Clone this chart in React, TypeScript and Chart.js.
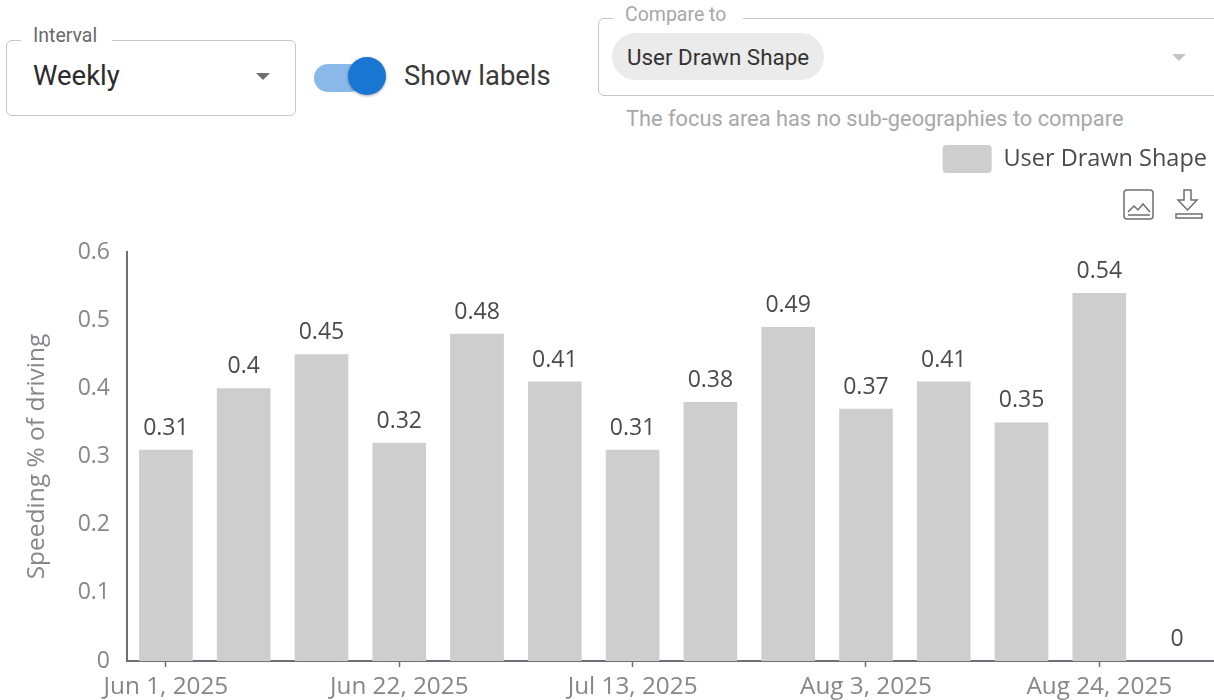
import React, { useEffect, useRef } from "react";
import { Chart, registerables } from "chart.js";

Chart.register(...registerables);

const categories = ["Jun 1, 2025","Jun 8, 2025","Jun 15, 2025","Jun 22, 2025","Jun 29, 2025","Jul 6, 2025","Jul 13, 2025","Jul 20, 2025","Jul 27, 2025","Aug 3, 2025","Aug 10, 2025","Aug 17, 2025","Aug 24, 2025","Aug 31, 2025"];
const seriesName = "User Drawn Shape";
const speeding = [0.31,0.4,0.45,0.32,0.48,0.41,0.31,0.38,0.49,0.37,0.41,0.35,0.54,0];
const yTicks = [0,0.1,0.2,0.3,0.4,0.5,0.6];
const yTitle = "Speeding % of driving";

const CHART_FONT = '"Open Sans", sans-serif';
const UI_FONT = "Roboto, sans-serif";

const valueLabels = {
  id: "valueLabels",
  afterDatasetsDraw(chart: any) {
    const { ctx } = chart;
    const meta = chart.getDatasetMeta(0);
    ctx.save();
    ctx.font = `23px ${CHART_FONT}`;
    ctx.fillStyle = "#4a4a4a";
    ctx.textAlign = "center";
    ctx.textBaseline = "alphabetic";
    meta.data.forEach((bar: any, i: number) => {
      ctx.fillText(String(speeding[i]), bar.x, bar.y - 15);
    });
    ctx.restore();
  },
};

const legendGap = {
  id: "legendGap",
  beforeInit(chart: any) {
    const fit = chart.legend.fit;
    chart.legend.fit = function () {
      fit.call(this);
      this.height = 116;
    };
  },
};

function Arrow({ x, y, color }: { x: number; y: number; color: string }) {
  return (
    <div style={{ position: "absolute", left: x - 7, top: y - 3, width: 0, height: 0,
      borderLeft: "7px solid transparent", borderRight: "7px solid transparent", borderTop: `7px solid ${color}` }} />
  );
}

function Text({ x, y, size, color, font, children }: any) {
  return (
    <div style={{ position: "absolute", left: x, top: y, transform: "translateY(-50%)", fontSize: size, color,
      fontFamily: font || UI_FONT, whiteSpace: "nowrap", lineHeight: 1 }}>{children}</div>
  );
}

export default function App() {
  const ref = useRef<HTMLCanvasElement>(null);
  useEffect(() => {
    document.body.style.margin = "0";
    const chart = new Chart(ref.current!, {
      type: "bar",
      data: {
        labels: categories,
        datasets: [{ label: seriesName, data: speeding, backgroundColor: "#cecece", categoryPercentage: 1, barPercentage: 0.69 }],
      },
      plugins: [valueLabels, legendGap],
      options: {
        animation: false,
        responsive: false,
        layout: { padding: 0 },
        plugins: {
          tooltip: { enabled: false },
          legend: {
            position: "top",
            align: "end",
            onClick: () => {},
            labels: {
              boxWidth: 49, boxHeight: 28, padding: 9, useBorderRadius: true, borderRadius: 4,
              color: "#4a4a4a", font: { family: CHART_FONT, size: 23.5 },
            },
          },
        },
        scales: {
          x: {
            afterFit: (s: any) => { s.height = 39; },
            grid: { display: true, drawOnChartArea: false, drawTicks: true, offset: false, tickLength: 6, tickColor: "#6e7079", tickWidth: 1.5 },
            border: { color: "#6e7079", width: 2 },
            afterBuildTicks: (s: any) => { s.ticks = s.ticks.filter((t: any) => t.value % 3 === 0); },
            ticks: {
              autoSkip: false, maxRotation: 0, color: "#86868c", padding: 5,
              font: { family: CHART_FONT, size: 24.3 },
            },
          },
          y: {
            min: 0, max: 0.6,
            afterFit: (s: any) => { s.width = 127; },
            afterBuildTicks: (s: any) => { s.ticks = yTicks.map((value) => ({ value })); },
            grid: { display: false },
            border: { color: "#6e7079", width: 2 },
            title: { display: true, text: yTitle, color: "#86868c", font: { family: CHART_FONT, size: 24.5 }, padding: { top: 22, bottom: 0 } },
            ticks: { color: "#86868c", padding: 9, font: { family: CHART_FONT, size: 23 } },
          },
        },
      },
    } as any);
    return () => chart.destroy();
  }, []);

  return (
    <div style={{ position: "relative", width: 1214, height: 700, overflow: "hidden", background: "#fff" }}>
      <canvas ref={ref} width={1216} height={564} style={{ position: "absolute", left: 0, top: 136, width: 1216, height: 564 }} />

      <div style={{ position: "absolute", left: 6, top: 40, width: 288, height: 74, border: "1.5px solid #c6c6c6", borderRadius: 6 }} />
      <div style={{ position: "absolute", left: 21, top: 30, width: 91, height: 16, background: "#fff" }} />
      <Text x={33} y={36} size={19.5} color="#6a6a6a">Interval</Text>
      <Text x={33} y={76} size={27.5} color="#2b2b2b">Weekly</Text>
      <Arrow x={263} y={76} color="#707070" />

      <div style={{ position: "absolute", left: 314, top: 64, width: 50, height: 28, background: "#8ab8e8", borderRadius: 14 }} />
      <div style={{ position: "absolute", left: 348, top: 57, width: 38, height: 38, background: "#1976d2", borderRadius: "50%", boxShadow: "0 1px 3px rgba(0,0,0,.35)" }} />
      <Text x={404} y={77} size={27.4} color="#3a3a3a">Show labels</Text>

      <div style={{ position: "absolute", left: 598, top: 18, width: 640, height: 76, border: "1.5px solid #c6c6c6", borderRadius: 6 }} />
      <div style={{ position: "absolute", left: 613, top: 8, width: 130, height: 16, background: "#fff" }} />
      <Text x={625} y={15} size={19.5} color="#a8a8a8">Compare to</Text>
      <div style={{ position: "absolute", left: 612, top: 33, width: 212, height: 47, background: "#ebebeb", borderRadius: 24 }} />
      <Text x={627} y={57} size={22.4} color="#333">User Drawn Shape</Text>
      <Arrow x={1179} y={57} color="#c4c4c4" />
      <Text x={626} y={119} size={21.8} color="#a8a8a8">The focus area has no sub-geographies to compare</Text>

      <svg style={{ position: "absolute", left: 1120, top: 186, overflow: "visible" }} width={90} height={36} fill="none" stroke="#6f6f6f" strokeWidth={1.5}>
        <rect x={4} y={4} width={29} height={29} rx={3} />
        <path d="M8 26 L14 20 L18 24 L23 18 L30 26 M8 29 H30" />
        <path d="M64 4 H71 V14 H77 L67.5 24 L58 14 H64 Z" />
        <path d="M57 28 H83 V32 H57 Z" transform="translate(-1 0)" />
      </svg>
    </div>
  );
}
